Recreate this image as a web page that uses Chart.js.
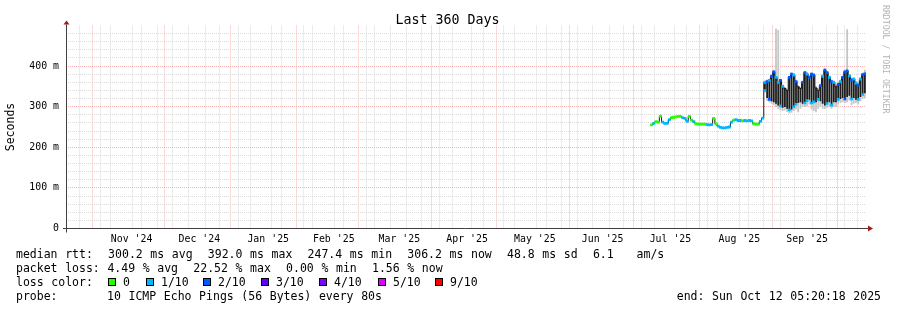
<!DOCTYPE html>
<html>
<head>
<meta charset="utf-8">
<script src="https://cdn.jsdelivr.net/npm/chart.js@4.4.1/dist/chart.umd.min.js"></script>
<style>
  body { margin: 0; background: #fff; }
  #wrap { position: relative; width: 897px; height: 310px; font-family: 'DejaVu Sans Mono', monospace; color: #000; }
  #wrap canvas { position: absolute; left: 0; top: 0; }
  .txt { position: absolute; white-space: pre; font-size: 11.5px; line-height: 14px; word-spacing: 0.7px; }
  .box { position: absolute; width: 8px; height: 8px; box-sizing: border-box; border: 1px solid #000; }
  #title { position: absolute; left: 0; top: 12px; width: 895px; text-align: center; font-size: 13.3px; line-height: 16px; }
  #mark { position: absolute; left: 881px; top: 5px; writing-mode: vertical-rl; font-size: 8.2px; line-height: 10px; color: #b4b4b4; white-space: pre; }
</style>
</head>
<body>
<div id="wrap">
  <canvas id="rttChart" width="897" height="310"></canvas>
  <div id="title">Last 360 Days</div>
  <div id="mark">RRDTOOL / TOBI OETIKER</div>
  <div class="txt" style="left:16px;top:247px">median rtt:  300.2 ms avg  392.0 ms max  247.4 ms min  306.2 ms now  48.8 ms sd  6.1   am/s</div>
  <div class="txt" style="left:16px;top:261px">packet loss: 4.49 % avg  22.52 % max  0.00 % min  1.56 % now</div>
  <div class="txt" style="left:16px;top:275px">loss color:</div>
  <div id="lossLegend"></div>
  <div class="txt" style="left:16px;top:289px">probe:</div>
  <div class="txt" style="left:107px;top:289px">10 ICMP Echo Pings (56 Bytes) every 80s</div>
  <div class="txt" style="right:16px;top:289px">end: Sun Oct 12 05:20:18 2025</div>
</div>
<script>
// x values are days counted from 1 Oct 2024
const xMin = 16.5;
const xMax = 376.5;
const monthStarts = [31, 61, 92, 123, 151, 182, 212, 243, 273, 304, 335, 365];
const monthLabels = ["Nov '24", "Dec '24", "Jan '25", "Feb '25", "Mar '25", "Apr '25", "May '25", "Jun '25", "Jul '25", "Aug '25", "Sep '25"];
const firstSunday = 19;
const yTickLabels = ['0', '100 m', '200 m', '300 m', '400 m'];

const lossLabels = ['0', '1/10', '2/10', '3/10', '4/10', '5/10', '9/10'];
const lossColors = ['#26ff00', '#00b8ff', '#0059ff', '#5e00ff', '#7e00ff', '#dd00ff', '#ff0000'];

// quiet period, one value per day from day 280 (ms)
const calmStart = 280;
const calmMedian = [255, 259, 263, 262, 277, 262, 259, 259, 268, 273,
                    274, 275, 276, 276, 273, 271, 264, 276, 267, 263,
                    258, 257, 257, 257, 257, 256, 255, 256, 271, 258,
                    252, 249, 248, 248, 249, 250, 262, 267, 268, 266,
                    266, 265, 266, 265, 266, 265, 258, 257, 257, 264, 272];
const calmLoss = [0, 1, 0, 0, 0, 1, 1, 1, 1, 0,
                  0, 0, 0, 0, 1, 1, 1, 0, 0, 1,
                  0, 0, 0, 0, 0, 1, 1, 1, 0, 0,
                  1, 1, 1, 1, 1, 1, 1, 0, 1, 1,
                  1, 0, 1, 1, 1, 1, 0, 0, 0, 1, 1];

// noisy period, one value per day from day 331 (ms)
const busyStart = 331;
const busyHi = [360, 362, 365, 375, 386, 372, 360, 365, 350, 345,
                340, 372, 380, 378, 362, 349, 345, 360, 384, 380,
                372, 380, 378, 346, 340, 352, 375, 390, 384, 372,
                362, 360, 349, 355, 362, 372, 386, 388, 376, 366,
                368, 358, 353, 368, 379, 381];
const busyLo = [340, 322, 318, 314, 312, 308, 304, 302, 298, 300,
                296, 292, 294, 300, 306, 310, 312, 308, 309, 315,
                318, 309, 312, 312, 318, 314, 308, 304, 308, 312,
                304, 312, 312, 318, 320, 322, 319, 325, 328, 319,
                322, 318, 318, 325, 330, 334];
const smokeHi = [364, 366, 368, 378, 390, 492, 488, 368, 354, 348,
                 344, 375, 384, 382, 366, 352, 348, 364, 388, 384,
                 376, 384, 382, 350, 344, 356, 378, 394, 388, 376,
                 366, 364, 353, 358, 366, 376, 390, 490, 380, 370,
                 372, 362, 357, 372, 383, 390];
const smokeLo = [336, 315, 312, 308, 305, 300, 296, 292, 290, 292,
                 288, 284, 286, 290, 294, 287, 296, 300, 300, 302,
                 306, 294, 290, 287, 296, 300, 296, 295, 298, 300,
                 296, 300, 300, 306, 310, 312, 310, 312, 316, 305,
                 308, 310, 306, 314, 320, 322];
// loss colour index at the top and bottom of each day's median swing (null: edge stays black)
const lossHi = [1, 2, 1, 2, 2, 1, 1, 2, 1, null,
                null, 2, 2, 1, 2, null, null, 2, 2, 1,
                2, 2, 2, null, null, 2, 1, 2, 2, 1,
                2, 1, null, 2, 1, 2, 2, 2, 1, 2,
                1, 1, 2, 1, 2, 2];
const lossLo = [1, null, 2, null, null, null, null, 1, null, null,
                null, 1, null, 1, 1, null, null, null, 1, 1,
                null, 1, 1, null, 1, null, null, null, 1, null,
                1, null, null, 1, null, null, 2, null, null, 1,
                null, null, 1, null, 1, null];

// legend boxes under the graph
const legendBoxX = [108, 146, 203, 261, 319, 378, 435];
const legendEl = document.getElementById('lossLegend');
lossLabels.forEach((lab, i) => {
  const b = document.createElement('div');
  b.className = 'box';
  b.style.left = legendBoxX[i] + 'px';
  b.style.top = '278px';
  b.style.background = lossColors[i];
  legendEl.appendChild(b);
  const t = document.createElement('div');
  t.className = 'txt';
  t.style.left = (legendBoxX[i] + 15) + 'px';
  t.style.top = '275px';
  t.textContent = lab;
  legendEl.appendChild(t);
});

const calmDays = calmMedian.map((_, i) => calmStart + i);
const busyDays = busyHi.map((_, i) => busyStart + i);
const allDays = calmDays.concat(busyDays);
const medianTop = calmMedian.concat(busyHi);
const topLoss = calmLoss.concat(lossHi);

const gridGray = '#dadada';
const gridRed = '#f6b4b4';
const clear = 'rgba(0,0,0,0)';
const lossColor = l => (l === null ? clear : lossColors[l]);

const axesPlugin = {
  id: 'rrdAxes',
  afterDatasetsDraw(chart) {
    const { ctx, chartArea: a } = chart;
    const xl = Math.round(a.left) + 0.5;
    const yb = Math.round(a.bottom - 0.5) + 0.5;
    ctx.save();
    ctx.strokeStyle = '#404040';
    ctx.lineWidth = 1;
    ctx.beginPath();
    ctx.moveTo(a.left - 3, yb);
    ctx.lineTo(a.right + 2, yb);
    ctx.moveTo(xl, a.bottom + 4);
    ctx.lineTo(xl, a.top - 1);
    ctx.stroke();
    ctx.fillStyle = '#9c1c1c';
    ctx.beginPath();
    ctx.moveTo(a.right + 2, yb - 3);
    ctx.lineTo(a.right + 7, yb);
    ctx.lineTo(a.right + 2, yb + 3);
    ctx.closePath();
    ctx.fill();
    ctx.beginPath();
    ctx.moveTo(xl - 3, a.top - 1);
    ctx.lineTo(xl, a.top - 5);
    ctx.lineTo(xl + 3, a.top - 1);
    ctx.closePath();
    ctx.fill();
    ctx.restore();
  }
};

Chart.defaults.font.family = "'DejaVu Sans Mono', monospace";
Chart.defaults.color = '#000';

new Chart(document.getElementById('rttChart'), {
  type: 'line',
  data: {
    datasets: [
      {
        label: 'loss top',
        data: allDays.map((d, i) => ({ x: d, y: medianTop[i] })),
        showLine: false,
        pointStyle: 'line',
        pointRadius: 1.4,
        pointBorderWidth: 2.8,
        pointBorderColor: topLoss.map(lossColor),
        order: 0
      },
      {
        label: 'loss low',
        data: busyDays.map((d, i) => ({ x: d, y: busyLo[i] })),
        showLine: false,
        pointStyle: 'line',
        pointRadius: 1.4,
        pointBorderWidth: 2.6,
        pointBorderColor: lossLo.map(lossColor),
        order: 0
      },
      {
        label: 'median',
        data: allDays.map((d, i) => ({ x: d, y: medianTop[i] })),
        stepped: 'middle',
        borderColor: '#1a1a1a',
        borderWidth: 1,
        pointRadius: 0,
        order: 1
      },
      {
        type: 'bar',
        label: 'median range',
        data: busyDays.map((d, i) => ({ x: d, y: [busyLo[i], busyHi[i]] })),
        backgroundColor: '#1e1e1e',
        grouped: false,
        barPercentage: 1,
        categoryPercentage: 1,
        order: 2
      },
      {
        type: 'bar',
        label: 'smoke',
        data: busyDays.map((d, i) => ({ x: d, y: [smokeLo[i], smokeHi[i]] })),
        backgroundColor: '#c6c6c6',
        grouped: false,
        barPercentage: 1,
        categoryPercentage: 1,
        order: 3
      }
    ]
  },
  options: {
    responsive: false,
    devicePixelRatio: 1,
    animation: false,
    events: [],
    layout: { padding: { top: 25.5, right: 31, bottom: 61.5, left: 0 } },
    plugins: {
      legend: { display: false },
      tooltip: { enabled: false }
    },
    scales: {
      x: {
        type: 'linear',
        min: xMin,
        max: xMax,
        offset: false,
        afterFit: s => { s.height = 20; },
        afterBuildTicks: s => {
          const ticks = [];
          for (let d = firstSunday; d < xMax; d += 7) ticks.push({ value: d, kind: 'week' });
          monthStarts.forEach(d => ticks.push({ value: d, kind: 'month' }));
          monthLabels.forEach((lab, i) => ticks.push({ value: (monthStarts[i] + monthStarts[i + 1]) / 2, kind: 'label', text: lab }));
          ticks.sort((p, q) => p.value - q.value);
          s.ticks = ticks;
        },
        ticks: {
          autoSkip: false,
          maxRotation: 0,
          minRotation: 0,
          padding: 5,
          font: { size: 9.9 },
          callback: (v, i, ticks) => (ticks[i] && ticks[i].kind === 'label') ? ticks[i].text : ''
        },
        grid: {
          drawTicks: false,
          color: c => {
            if (!c.tick) return clear;
            if (c.tick.kind === 'month') return gridRed;
            return c.tick.kind === 'week' ? gridGray : clear;
          }
        },
        border: { display: false, dash: [1, 1] }
      },
      y: {
        min: 0,
        max: 500,
        afterFit: s => { s.width = 66; },
        ticks: {
          stepSize: 20,
          autoSkip: false,
          padding: 7,
          font: { size: 9.9 },
          callback: v => (v % 100 === 0 && v < 500) ? yTickLabels[v / 100] : ''
        },
        grid: {
          drawTicks: false,
          color: c => {
            if (!c.tick || c.tick.value >= 500) return clear;
            return c.tick.value % 100 === 0 ? gridRed : gridGray;
          }
        },
        border: { display: false, dash: [1, 1] },
        title: {
          display: true,
          text: 'Seconds',
          font: { size: 11.5 },
          padding: { top: 4, bottom: 0 }
        }
      }
    }
  },
  plugins: [axesPlugin]
});
</script>
</body>
</html>
